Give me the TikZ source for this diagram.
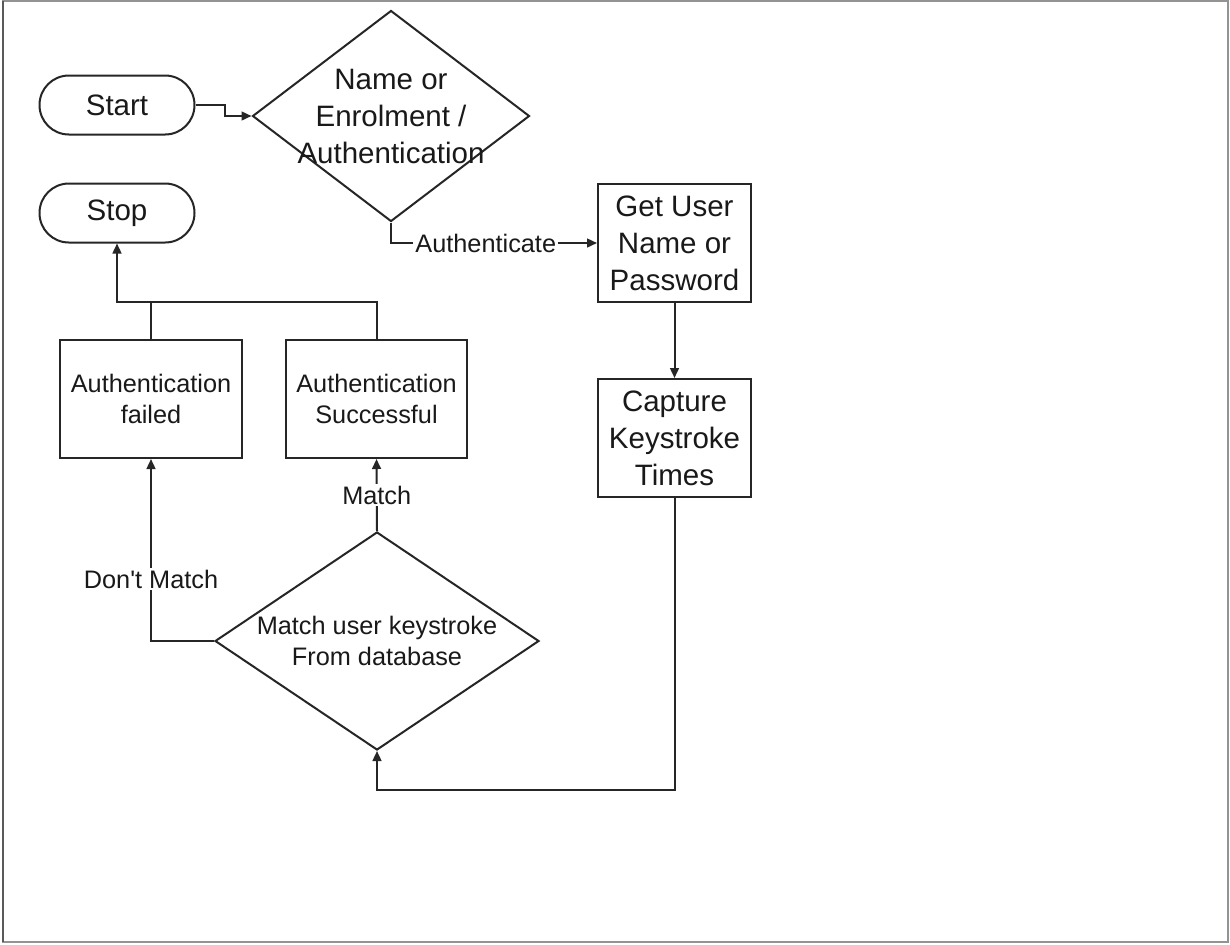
\documentclass[tikz,border=0pt]{standalone}
\usepackage{fontspec}
\setmainfont{Liberation Sans}
\usetikzlibrary{shapes.geometric,arrows.meta}
\begin{document}
\begin{tikzpicture}[x=0.5pt,y=-0.5pt,
  ink/.style={draw=black!85, line width=1pt},
  bigtext/.style={font=\fontsize{14.75pt}{18.5pt}\selectfont, align=center, text=black!90},
  smalltext/.style={font=\fontsize{12.65pt}{15.5pt}\selectfont, align=center, text=black!90},
  terminal/.style={ink, bigtext, rectangle, rounded corners=14.7pt,
    minimum width=77.5pt, minimum height=29.5pt, inner sep=0pt},
  stepbox/.style={ink, rectangle, minimum height=59pt, inner sep=0pt},
  decision/.style={ink, diamond, inner sep=0pt},
  flow/.style={ink, -{Triangle[length=5pt,width=4.4pt]}},
  link/.style={ink},
  edgelabel/.style={smalltext, fill=white, inner sep=1pt}
]
% page and frame
\useasboundingbox (0,0) rectangle (1230,944);
\fill[white] (0,0) rectangle (1230,944);
\draw[gray!85, line width=1pt] (3,1) rectangle (1228,942);
\draw[gray!70!black, line width=1.2pt] (3,1) -- (3,942);

% terminals
\node[terminal] (start) at (117,105) {Start};
\node[terminal] (stop)  at (117,213) {Stop};

% first decision
\node[decision, minimum width=138.5pt, minimum height=105.5pt,
  label={[bigtext]center:{Name or\\Enrolment /\\Authentication}}] (choose) at (391,116) {};

% process steps
\node[stepbox, bigtext, minimum width=76.5pt] (getuser) at (674.5,243) {Get User\\Name or\\Password};
\node[stepbox, bigtext, minimum width=76.5pt] (capture) at (674.5,438) {Capture\\Keystroke\\Times};
\node[stepbox, smalltext, minimum width=91pt] (failed) at (151,399) {Authentication\\failed};
\node[stepbox, smalltext, minimum width=90.5pt] (success) at (376.5,399) {Authentication\\Successful};

% matching decision
\node[decision, minimum width=162pt, minimum height=109pt,
  label={[smalltext]center:{Match user keystroke\\From database}}] (matchdb) at (377,641) {};

% bend points
\coordinate (loop) at (674.5,790);
\coordinate (join) at (117,302);

% connectors
\draw[flow] (start.east) -- ++(29,0) |- (choose.west);
\draw[flow] (choose.south) |- (getuser.west)
  node[edgelabel, pos=0.73] {Authenticate};
\draw[flow] (getuser.south) -- (capture.north);
\draw[flow] (capture.south) -- (loop) -| (matchdb.south);
\draw[flow] (matchdb.north) -- (success.south)
  node[edgelabel, pos=0.5] {Match};
\draw[flow] (matchdb.west) -| (failed.south)
  node[edgelabel, pos=0.67] {Don\textquotesingle t Match};
\draw[flow] (success.north) |- (join) -- (stop.south);
\draw[link] (failed.north) -- (failed.north |- join);
\end{tikzpicture}
\end{document}
